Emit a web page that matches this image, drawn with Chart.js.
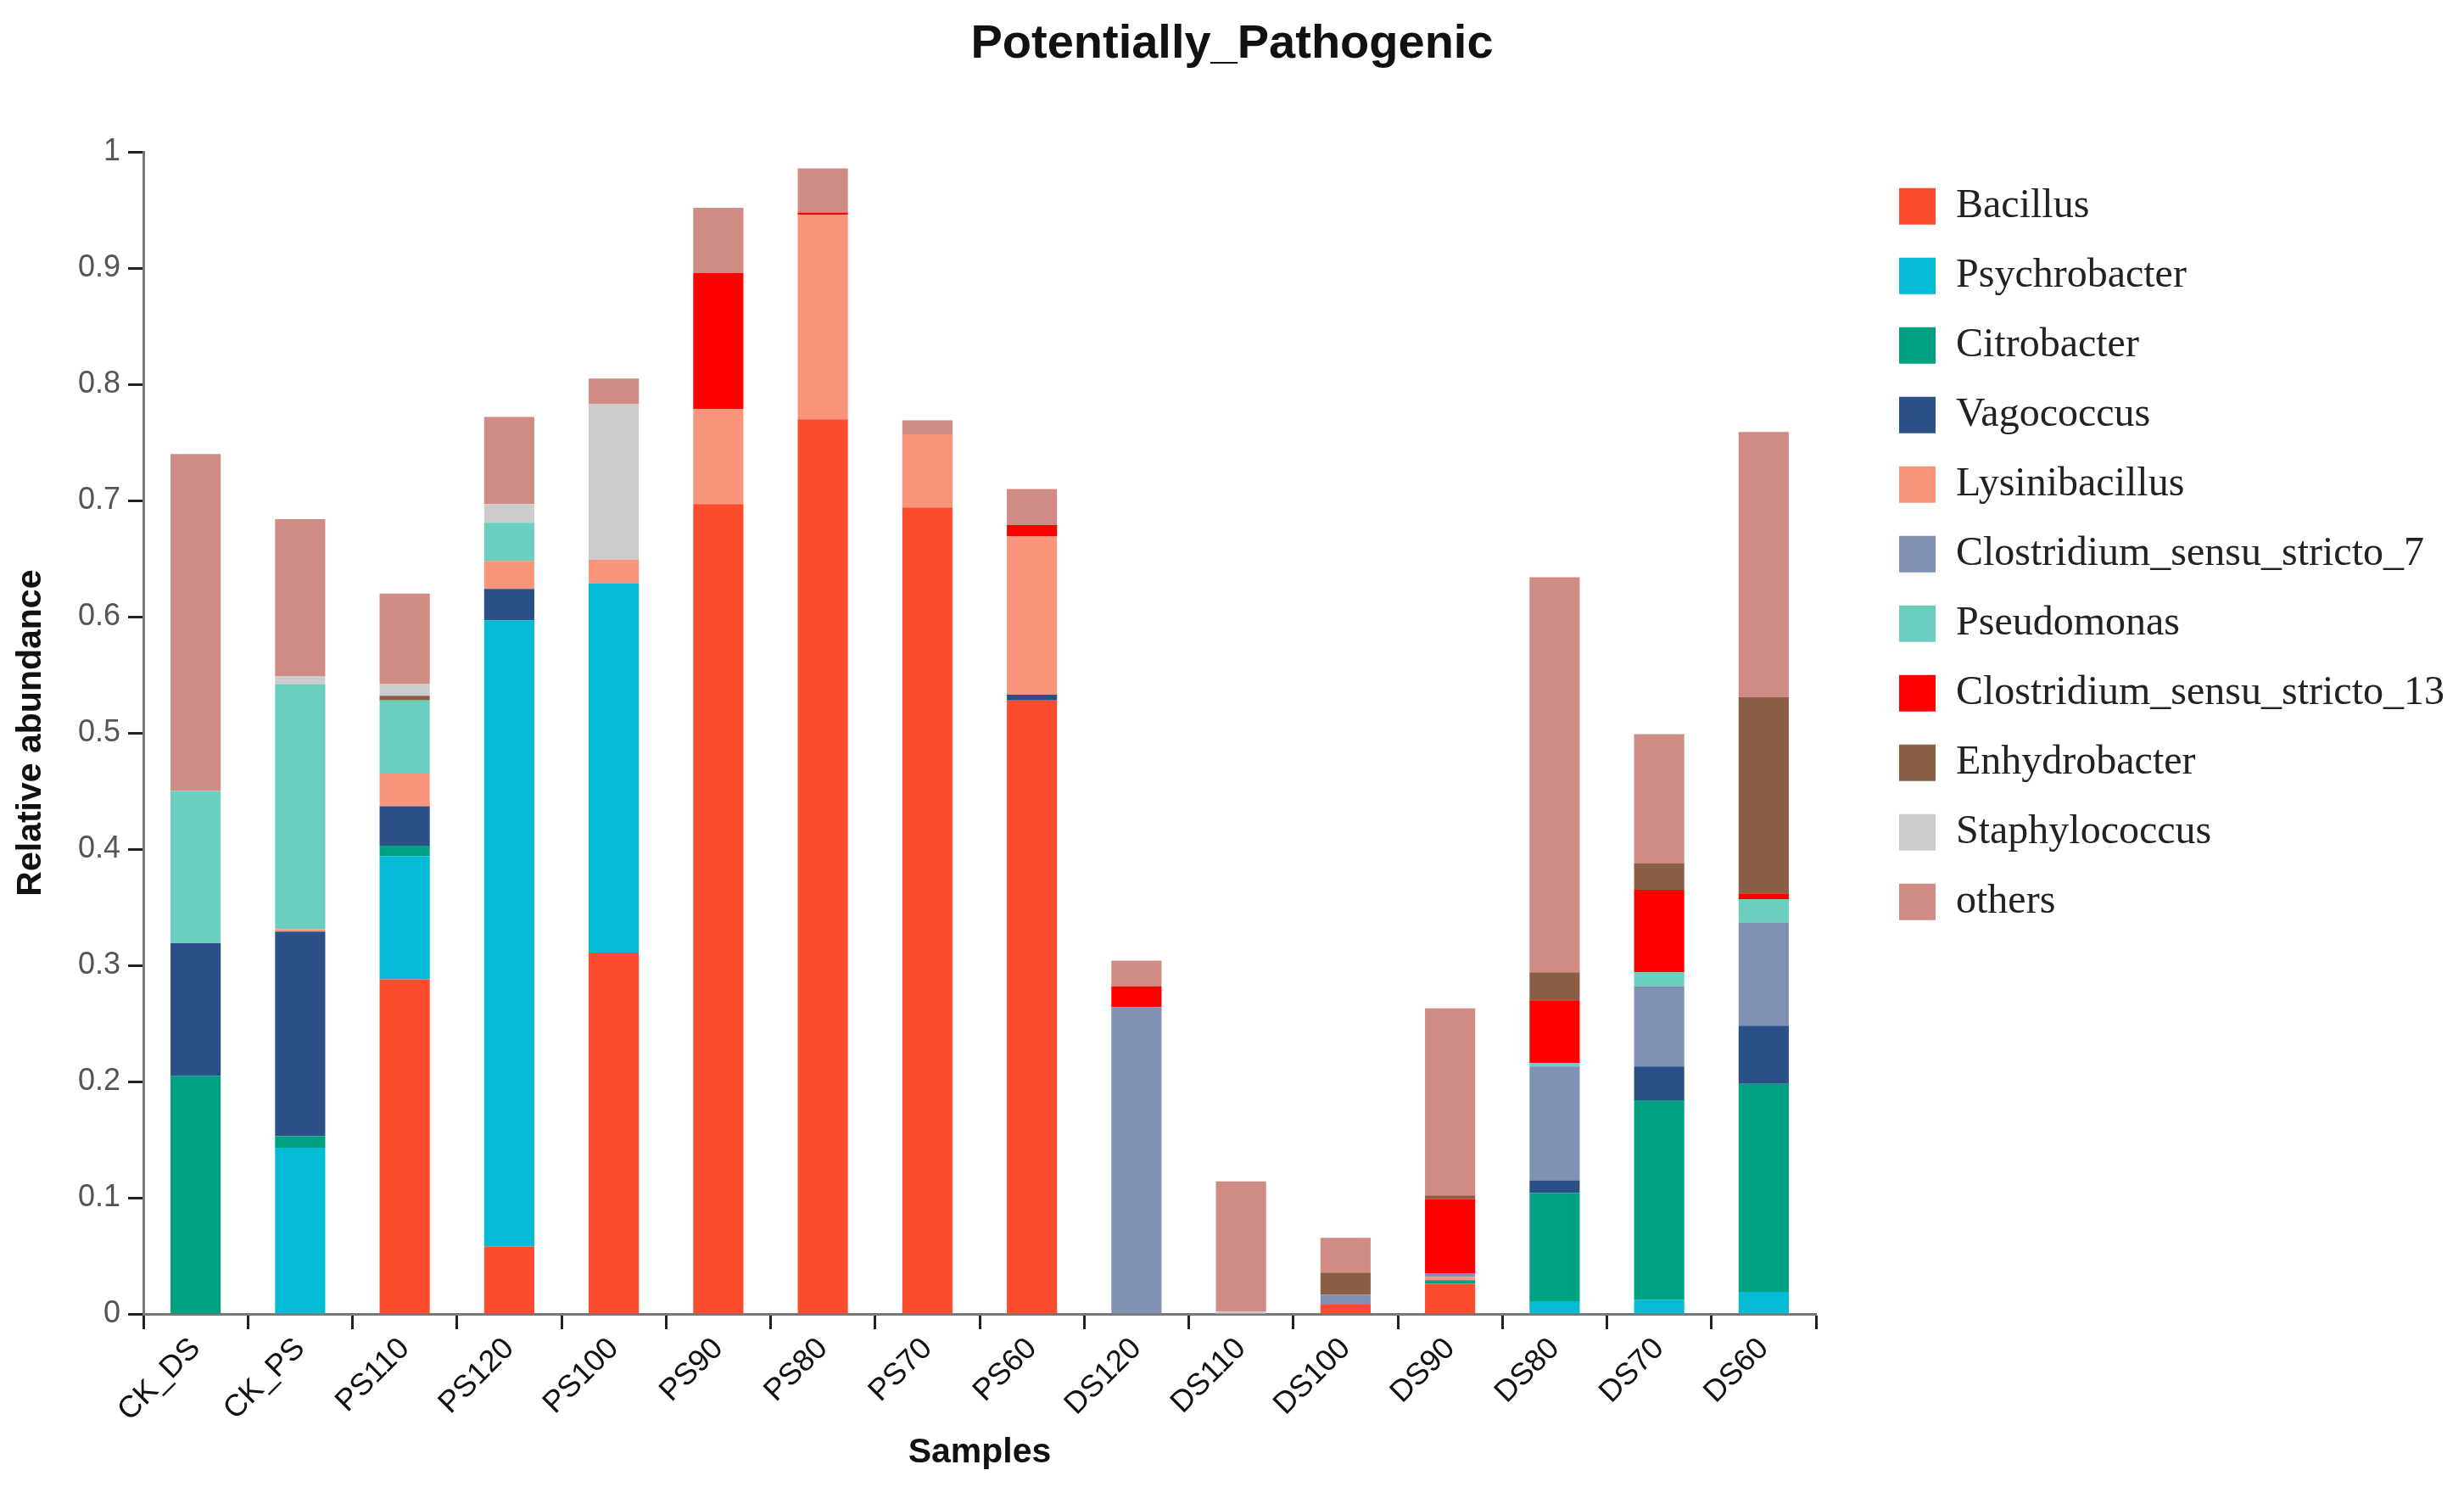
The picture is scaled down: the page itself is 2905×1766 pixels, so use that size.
<!DOCTYPE html>
<html>
<head>
<meta charset="utf-8">
<script src="https://cdn.jsdelivr.net/npm/chart.js@4/dist/chart.umd.min.js"></script>
<style>
  body { margin: 0; background: #fff; }
  canvas { display: block; }
</style>
</head>
<body>
<canvas id="graph1" width="2905" height="1766"></canvas>
<script>
var samples = ['CK_DS', 'CK_PS', 'PS110', 'PS120', 'PS100', 'PS90', 'PS80', 'PS70', 'PS60', 'DS120', 'DS110', 'DS100', 'DS90', 'DS80', 'DS70', 'DS60'];

var bacillus       = [0, 0, 0.288, 0.058, 0.311, 0.697, 0.770, 0.694, 0.528, 0, 0, 0.008, 0.026, 0, 0, 0];
var psychrobacter  = [0, 0.143, 0.106, 0.539, 0.318, 0, 0, 0, 0, 0, 0, 0, 0, 0.011, 0.012, 0.019];
var citrobacter    = [0.205, 0.010, 0.009, 0, 0, 0, 0, 0, 0, 0, 0, 0, 0.003, 0.093, 0.172, 0.179];
var vagococcus     = [0.114, 0.176, 0.034, 0.027, 0, 0, 0, 0, 0.005, 0, 0, 0, 0, 0.011, 0.029, 0.050];
var lysinibacillus = [0, 0.002, 0.028, 0.024, 0.020, 0.082, 0.176, 0.063, 0.136, 0, 0, 0, 0.003, 0, 0, 0];
var clostridium7   = [0, 0, 0, 0, 0, 0, 0, 0, 0, 0.264, 0, 0.0085, 0.003, 0.098, 0.069, 0.089];
var pseudomonas    = [0.131, 0.211, 0.063, 0.033, 0, 0, 0, 0, 0, 0, 0, 0, 0, 0.003, 0.012, 0.020];
var clostridium13  = [0, 0, 0, 0, 0, 0.117, 0.002, 0, 0.010, 0.018, 0, 0, 0.064, 0.054, 0.071, 0.005];
var enhydrobacter  = [0, 0, 0.004, 0, 0, 0, 0, 0, 0, 0, 0, 0.019, 0.003, 0.024, 0.023, 0.169];
var staphylococcus = [0, 0.007, 0.010, 0.016, 0.134, 0, 0, 0, 0, 0, 0.002, 0, 0, 0, 0, 0];
var others         = [0.290, 0.135, 0.078, 0.075, 0.022, 0.056, 0.038, 0.012, 0.031, 0.022, 0.112, 0.030, 0.161, 0.340, 0.111, 0.228];

var yTickLabels = ['0', '0.1', '0.2', '0.3', '0.4', '0.5', '0.6', '0.7', '0.8', '0.9', '1'];

var ctx = document.getElementById("graph1").getContext("2d");

function serie(label, color, values) {
    return { label: label, backgroundColor: color, data: values, yAxisID: 'y' };
}

var data = {
    labels: samples,
    datasets: [
        serie('Bacillus', '#FD4B2D', bacillus),
        serie('Psychrobacter', '#03BBD4', psychrobacter),
        serie('Citrobacter', '#00A083', citrobacter),
        serie('Vagococcus', '#2B5088', vagococcus),
        serie('Lysinibacillus', '#F9957B', lysinibacillus),
        serie('Clostridium_sensu_stricto_7', '#8091B4', clostridium7),
        serie('Pseudomonas', '#6BCFBF', pseudomonas),
        serie('Clostridium_sensu_stricto_13', '#FF0000', clostridium13),
        serie('Enhydrobacter', '#8A5F45', enhydrobacter),
        serie('Staphylococcus', '#CCCCCC', staphylococcus),
        serie('others', '#CF8B84', others)
    ]
};

var config = {
    type: 'bar',
    data: data,
    options: {
        responsive: false,
        animation: false,
        barPercentage: 0.48,
        categoryPercentage: 1,
        layout: { padding: 0 },
        plugins: {
            tooltip: { enabled: false },
            title: {
                display: true,
                text: 'Potentially_Pathogenic',
                color: '#111',
                font: { family: 'Liberation Sans', size: 56, weight: 'bold' },
                padding: { top: 19, bottom: 93 }
            },
            legend: {
                position: 'right',
                align: 'start',
                fullSize: false,
                maxWidth: 800,
                title: { display: true, text: ' ', font: { size: 5 }, padding: 0 },
                labels: {
                    boxWidth: 43,
                    boxHeight: 43,
                    padding: 34,
                    color: '#222',
                    font: { family: 'Liberation Serif', size: 48 }
                }
            }
        },
        scales: {
            x: {
                stacked: true,
                // fixed axis height, chart area ends at the same place on the right
                afterFit: function (s) { s.height = 217; s.paddingRight = 764; },
                grid: {
                    display: true,
                    drawOnChartArea: false,
                    drawTicks: true,
                    tickLength: 18,
                    tickColor: '#222',
                    tickWidth: 3
                },
                border: { color: '#777', width: 3 },
                ticks: {
                    autoSkip: false,
                    minRotation: 45,
                    maxRotation: 45,
                    padding: 2,
                    color: '#111',
                    font: { family: 'Liberation Sans', size: 36 }
                },
                title: {
                    display: true,
                    text: 'Samples',
                    color: '#111',
                    font: { family: 'Liberation Sans', size: 41, weight: 'bold' },
                    padding: { top: 0, bottom: 29 }
                }
            },
            y: {
                stacked: true,
                min: 0,
                max: 1,
                afterFit: function (s) { s.width = 169; },
                grid: {
                    display: true,
                    drawOnChartArea: false,
                    drawTicks: true,
                    tickLength: 18,
                    tickColor: '#222',
                    tickWidth: 3
                },
                border: { color: '#777', width: 3 },
                ticks: {
                    stepSize: 0.1,
                    padding: 9,
                    color: '#555',
                    font: { family: 'Liberation Sans', size: 36 },
                    callback: function (v, i) { return yTickLabels[i]; }
                },
                title: {
                    display: true,
                    text: 'Relative abundance',
                    color: '#111',
                    font: { family: 'Liberation Sans', size: 41, weight: 'bold' },
                    padding: { top: 12, bottom: 0 }
                }
            },
            // empty axis: only a gap between the bars and the legend
            yR: {
                position: 'right',
                display: true,
                afterFit: function (s) { s.width = 64; },
                grid: { display: false },
                border: { display: false },
                ticks: { display: false }
            }
        }
    }
};

var graph1 = new Chart(ctx, config);
</script>
</body>
</html>
